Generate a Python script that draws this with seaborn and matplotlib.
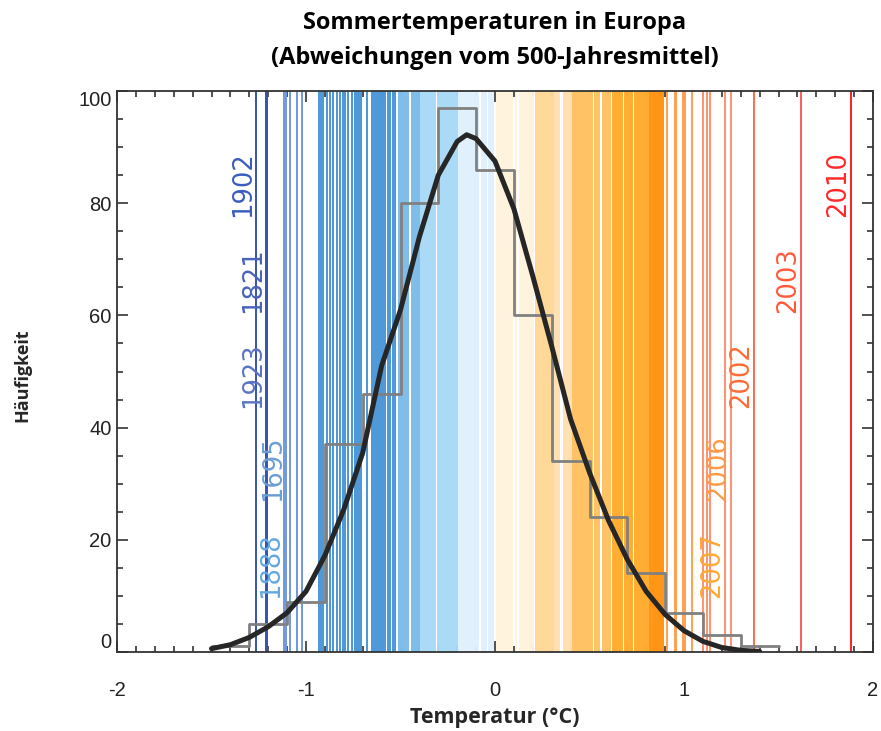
#!/usr/bin/env python3
# Sommertemperaturen in Europa: stripes per year, histogram and fitted curve.

import numpy as np
import pandas as pd
import seaborn as sns
import matplotlib.pyplot as plt
from matplotlib.ticker import MultipleLocator

# Data

# yearly anomaly values (degC), one stripe each
stripe_values = [
  -1.265, -1.212, -1.206, -1.116, -1.106, -1.085, -1.046, -1.023,
  -0.930, -0.919, -0.908, -0.887, -0.873, -0.859, -0.838, -0.820, -0.803,
  -0.794, -0.780, -0.757, -0.741, -0.730, -0.720, -0.710, -0.677, -0.650,
  -0.640, -0.630, -0.620, -0.610, -0.600, -0.593, -0.580, -0.566, -0.555, -0.540, -0.530,
  -0.510, -0.500, -0.490, -0.480, -0.470, -0.460, -0.440, -0.430, -0.420, -0.410, -0.400,
  -0.390, -0.380, -0.370, -0.360, -0.350, -0.340, -0.330, -0.320, -0.300, -0.290,
  -0.280, -0.270, -0.260, -0.250, -0.240, -0.230, -0.220, -0.210, -0.200,
  -0.190, -0.180, -0.170, -0.160, -0.150, -0.140, -0.130, -0.120, -0.110, -0.100,
  -0.090, -0.070, -0.060, -0.050, -0.030, -0.020, -0.010,
  0.010, 0.020, 0.030, 0.040, 0.050, 0.060, 0.070, 0.080, 0.090, 0.110, 0.130,
  0.140, 0.150, 0.160, 0.170, 0.180, 0.190, 0.200,
  0.215, 0.225, 0.235, 0.245, 0.255, 0.265, 0.275, 0.285, 0.295, 0.305,
  0.318, 0.328, 0.338, 0.365, 0.375, 0.388, 0.398, 0.407,
  0.415, 0.425, 0.435, 0.445, 0.455, 0.465, 0.475, 0.485, 0.495, 0.505, 0.513,
  0.530, 0.540, 0.552, 0.571, 0.581, 0.591, 0.601, 0.608,
  0.624, 0.634, 0.644, 0.654, 0.664, 0.672, 0.688, 0.698, 0.708, 0.718, 0.725,
  0.741, 0.751, 0.761, 0.771, 0.781, 0.791, 0.801, 0.810,
  0.820, 0.830, 0.840, 0.850, 0.860, 0.870, 0.880, 0.889,
  0.910, 0.952, 0.960, 0.995, 1.005, 1.042, 1.100, 1.122, 1.138,
  1.217, 1.249, 1.370, 1.620, 1.884,
]

# labelled extreme years
label_years = ['1902', '1821', '1923', '1695', '1888', '2007', '2006', '2002', '2003', '2010']
label_values = [-1.265, -1.209, -1.209, -1.106, -1.116, 1.217, 1.249, 1.370, 1.620, 1.884]
label_heights = [77.5, 60.5, 43.5, 27.0, 9.7, 9.7, 27.0, 43.5, 60.5, 77.5]

# histogram (bins of 0.2 degC)
hist_edges = [-1.5, -1.3, -1.1, -0.9, -0.7, -0.5, -0.3, -0.1, 0.1, 0.3, 0.5, 0.7, 0.9, 1.1, 1.3, 1.5]
hist_counts = [1, 5, 9, 37, 46, 80, 97, 86, 60, 34, 24, 14, 7, 3, 1]

# fitted curve
curve_x = [-1.5, -1.4, -1.3, -1.2, -1.1, -1.0, -0.9, -0.8, -0.7, -0.6, -0.5, -0.4, -0.3,
           -0.2, -0.15, -0.1, 0.0, 0.1, 0.2, 0.3, 0.4, 0.5, 0.6, 0.7, 0.8, 0.9, 1.0,
           1.1, 1.2, 1.3, 1.4]
curve_y = [0.6, 1.3, 2.6, 4.5, 7.0, 10.8, 17.2, 25.4, 35.5, 51.0, 61.0, 74.0, 85.0,
           91.0, 92.2, 91.5, 87.5, 79.0, 67.0, 54.5, 41.5, 32.0, 23.5, 16.5, 10.8, 6.7, 3.8,
           1.9, 0.8, 0.3, 0.1]

# Styles

STRIPE_EDGES = [-1.15, -0.95, -0.515, -0.395, -0.195, 0.0, 0.21, 0.312, 0.41,
                0.615, 0.815, 0.9, 1.07, 1.3, 1.5, 1.8]
STRIPE_COLORS = ['#3553b5', '#6f98dc', '#4b97d8', '#7dbde9', '#a9d9f6', '#e0f0fc',
                 '#fff3de', '#ffd898', '#ffe0b0', '#ffc262', '#ffab2e', '#ff9412',
                 '#ffa050', '#ff9070', '#ff6a45', '#ff5a5a', '#ff1f1f']
LABEL_COLORS = ['#3a5cbf', '#4863bb', '#5a73c4', '#6b9ed6', '#63a8e0',
                '#ffaa33', '#ff9a45', '#ff6a35', '#ff5a3a', '#ff2a2a']

sns.set_style('ticks')
plt.rcParams['font.family'] = ['Liberation Sans', 'DejaVu Sans']
plt.rcParams['axes.unicode_minus'] = False

fig = plt.figure(figsize=(8.81, 7.31), dpi=100)
ax = fig.add_axes([117/881, 1 - 652/731, (873 - 117)/881, (652 - 91)/731])

#### Stripes
idx = np.digitize(stripe_values, STRIPE_EDGES)
for v, i in zip(stripe_values, idx):
  ax.axvline(v, color=STRIPE_COLORS[i], lw=1.4, zorder=1)

#### Histogram
centers = [(a + b) / 2 for a, b in zip(hist_edges[:-1], hist_edges[1:])]
df_hist = pd.DataFrame({'T': centers, 'n': hist_counts})
sns.histplot(data=df_hist, x='T', weights='n', bins=hist_edges, element='step',
             fill=False, color='#808080', lw=2, ax=ax, zorder=3)

#### Curve
df_curve = pd.DataFrame({'T': curve_x, 'n': curve_y})
sns.lineplot(data=df_curve, x='T', y='n', color='#262626', lw=3.6, sort=False,
             ax=ax, zorder=4)

#### Year labels
for yr, v, h, c in zip(label_years, label_values, label_heights, LABEL_COLORS):
  ax.text(v, h, yr, rotation=90, ha='right', va='bottom', color=c,
          fontsize=18.5, family='DejaVu Sans', zorder=5)

#### Axes
ax.set_xlim(-2, 2)
ax.set_ylim(0, 100)
ax.xaxis.set_major_locator(MultipleLocator(1))
ax.xaxis.set_minor_locator(MultipleLocator(0.1))
ax.yaxis.set_major_locator(MultipleLocator(20))
ax.yaxis.set_minor_locator(MultipleLocator(5))
ax.tick_params(which='both', direction='in', top=True, right=True,
               color='#333333', width=1.2, labelsize=14.5, labelcolor='#222222')
ax.tick_params(which='major', length=8)
ax.tick_params(which='minor', length=4.5)
ax.tick_params(axis='x', which='major', pad=21)
ax.tick_params(axis='y', which='major', pad=4)
for s in ax.spines.values():
  s.set_color('#333333')
  s.set_linewidth(1.3)
ax.set_xlabel('')
ax.set_ylabel('')

# IDL style: end labels of the y axis kept inside the frame
fig.canvas.draw()
for lab in ax.get_yticklabels():
  if lab.get_text() == '0':
    lab.set_va('bottom')
  elif lab.get_text() == '100':
    lab.set_va('top')

fig.text(22/881, 1 - 375/731, 'Häufigkeit', rotation=90, ha='center', va='center',
         fontsize=13, fontweight='bold', family='Open Sans')
fig.text(495/881, 1 - 718/731, 'Temperatur (°C)', ha='center', va='center',
         fontsize=15.5, fontweight='bold', family='Open Sans')
fig.text(495/881, 1 - 23/731, 'Sommertemperaturen in Europa', ha='center', va='center',
         fontsize=17, fontweight='bold', family='Open Sans', color='black')
fig.text(495/881, 1 - 58/731, '(Abweichungen vom 500-Jahresmittel)', ha='center',
         va='center', fontsize=17, fontweight='bold', family='Open Sans', color='black')

fig.savefig('out.png', dpi=100)
